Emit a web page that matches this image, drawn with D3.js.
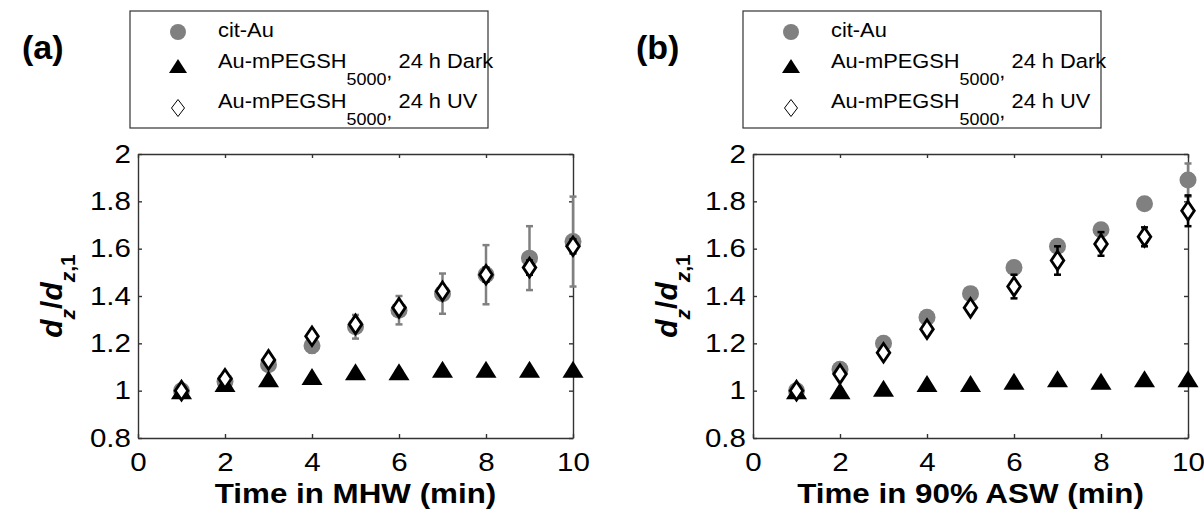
<!DOCTYPE html>
<html>
<head>
<meta charset="utf-8">
<script src="https://cdn.jsdelivr.net/npm/d3@7"></script>
<style>
  body { margin: 0; background: #fff; }
  svg { display: block; }
  text { font-family: "Liberation Sans", Arial, sans-serif; fill: #000; }
</style>
</head>
<body>
<div id="chart"></div>
<script>
// data
const times = [1, 2, 3, 4, 5, 6, 7, 8, 9, 10]
const xTicks = [0, 2, 4, 6, 8, 10]
const yTicks = [0.8, 1, 1.2, 1.4, 1.6, 1.8, 2]

// (a) MHW
const mhwCit = [1.00, 1.04, 1.11, 1.19, 1.27, 1.34, 1.41, 1.49, 1.56, 1.63]
const mhwCitErr = [0.01, 0.01, 0.02, 0.03, 0.05, 0.06, 0.085, 0.125, 0.135, 0.19]
const mhwDark = [1.00, 1.03, 1.05, 1.06, 1.08, 1.08, 1.09, 1.09, 1.09, 1.09]
const mhwDarkErr = [0.005, 0.005, 0.005, 0.005, 0.005, 0.005, 0.005, 0.005, 0.005, 0.005]
const mhwUV = [1.00, 1.05, 1.13, 1.23, 1.28, 1.35, 1.42, 1.49, 1.52, 1.61]
const mhwUVErr = [0.01, 0.01, 0.01, 0.01, 0.02, 0.02, 0.02, 0.03, 0.03, 0.03]

// (b) 90% ASW
const aswCit = [1.00, 1.09, 1.20, 1.31, 1.41, 1.52, 1.61, 1.68, 1.79, 1.89]
const aswCitErr = [0.01, 0.01, 0.01, 0.01, 0.01, 0.01, 0.01, 0.01, 0.01, 0.07]
const aswDark = [1.00, 1.00, 1.01, 1.03, 1.03, 1.04, 1.05, 1.04, 1.05, 1.05]
const aswDarkErr = [0.005, 0.005, 0.005, 0.005, 0.005, 0.005, 0.005, 0.005, 0.005, 0.005]
const aswUV = [1.00, 1.07, 1.16, 1.26, 1.35, 1.44, 1.55, 1.62, 1.65, 1.76]
const aswUVErr = [0.01, 0.01, 0.02, 0.02, 0.02, 0.05, 0.06, 0.05, 0.04, 0.065]

const legendNames = ["cit-Au", "Au-mPEGSH", "Au-mPEGSH"]
const legendSubs = ["", "5000", "5000"]
const legendTails = ["", " 24 h Dark", " 24 h UV"]

const W = 1204, H = 514
const SX = 1.12          // the source figure is a bit wider than tall
const GRAY = "#808080"
const plotTop = 154, plotBottom = 438, plotW = 435

const panels = [
  { tag: "(a)", tagX: 22, left: 138, legendX: 130, xLabel: "Time in MHW (min)",
    cit: mhwCit, citErr: mhwCitErr, dark: mhwDark, darkErr: mhwDarkErr, uv: mhwUV, uvErr: mhwUVErr },
  { tag: "(b)", tagX: 636, left: 753, legendX: 743, xLabel: "Time in 90% ASW (min)",
    cit: aswCit, citErr: aswCitErr, dark: aswDark, darkErr: aswDarkErr, uv: aswUV, uvErr: aswUVErr }
]

const svg = d3.select("#chart").append("svg")
  .attr("width", W)
  .attr("height", H)

const triPath = (w, h) => `M0,${-h}L${w},${h}L${-w},${h}Z`
const diaPath = (w, h) => `M0,${-h}L${w},0L0,${h}L${-w},0Z`

panels.forEach(p => {
  const g = svg.append("g")
  const x = d3.scaleLinear().domain([0, 10]).range([p.left, p.left + plotW])
  const y = d3.scaleLinear().domain([0.8, 2]).range([plotBottom, plotTop])
  const fmt = d => String(+d.toFixed(1))

  // axes, MATLAB style box with inward ticks
  const bx = g.append("g").attr("transform", `translate(0,${plotBottom})`)
    .call(d3.axisBottom(x).tickValues(xTicks).tickSize(-4).tickSizeOuter(0).tickPadding(15).tickFormat(fmt))
  const lx = g.append("g").attr("transform", `translate(${p.left},0)`)
    .call(d3.axisLeft(y).tickValues(yTicks).tickSize(-4).tickSizeOuter(0).tickPadding(6).tickFormat(fmt))
  const tx = g.append("g").attr("transform", `translate(0,${plotTop})`)
    .call(d3.axisTop(x).tickValues(xTicks).tickSize(-4).tickSizeOuter(0).tickFormat(""))
  const rx = g.append("g").attr("transform", `translate(${p.left + plotW},0)`)
    .call(d3.axisRight(y).tickValues(yTicks).tickSize(-4).tickSizeOuter(0).tickFormat(""))
  ;[bx, lx, tx, rx].forEach(a => {
    a.selectAll("path, line").attr("stroke", "#333").attr("stroke-width", 1.4)
    a.selectAll("text")
      .attr("font-family", '"Liberation Sans", Arial, sans-serif')
      .attr("font-size", 25)
      .attr("fill", "#000")
      .attr("transform", "scale(1.18,1)")
  })

  // axis titles
  g.append("text")
    .attr("transform", `translate(${p.left + plotW / 2},503) scale(${SX},1)`)
    .attr("text-anchor", "middle")
    .attr("font-size", 28)
    .attr("font-weight", "bold")
    .text(p.xLabel)

  const yl = g.append("text")
    .attr("transform", `translate(${p.left - 76},${(plotTop + plotBottom) / 2}) rotate(-90)`)
    .attr("text-anchor", "middle")
    .attr("font-size", 30)
    .attr("font-weight", "bold")
  yl.append("tspan").attr("font-style", "italic").text("d")
  yl.append("tspan").attr("font-style", "italic").attr("font-size", 21).attr("dy", 13).text("z")
  yl.append("tspan").attr("dy", -13).text("/")
  yl.append("tspan").attr("font-style", "italic").text("d")
  yl.append("tspan").attr("font-style", "italic").attr("font-size", 21).attr("dy", 13).text("z")
  yl.append("tspan").attr("font-size", 21).text(",1")

  // panel tag
  g.append("text")
    .attr("x", p.tagX).attr("y", 59)
    .attr("font-family", '"Open Sans", sans-serif')
    .attr("font-weight", "bold")
    .attr("font-size", 34)
    .text(p.tag)

  // error bars
  function errorBars(vals, errs, color) {
    const eg = g.append("g").attr("stroke", color).attr("stroke-width", 2.5)
    times.forEach((t, i) => {
      const cx = x(t), y0 = y(vals[i] - errs[i]), y1 = y(vals[i] + errs[i])
      eg.append("line").attr("x1", cx).attr("x2", cx).attr("y1", y0).attr("y2", y1)
      eg.append("line").attr("x1", cx - 3.5).attr("x2", cx + 3.5).attr("y1", y0).attr("y2", y0)
      eg.append("line").attr("x1", cx - 3.5).attr("x2", cx + 3.5).attr("y1", y1).attr("y2", y1)
    })
  }

  // cit-Au
  errorBars(p.cit, p.citErr, GRAY)
  g.append("g").selectAll("circle")
    .data(p.cit)
    .enter()
    .append("circle")
      .attr("cx", (d, i) => x(times[i]))
      .attr("cy", d => y(d))
      .attr("r", 8.5)
      .attr("fill", GRAY)

  // 24 h dark
  errorBars(p.dark, p.darkErr, "#000")
  g.append("g").selectAll("path")
    .data(p.dark)
    .enter()
    .append("path")
      .attr("transform", (d, i) => `translate(${x(times[i])},${y(d)})`)
      .attr("d", triPath(10.5, 8.5))
      .attr("fill", "#000")

  // 24 h UV
  errorBars(p.uv, p.uvErr, "#000")
  g.append("g").selectAll("path")
    .data(p.uv)
    .enter()
    .append("path")
      .attr("transform", (d, i) => `translate(${x(times[i])},${y(d)})`)
      .attr("d", diaPath(6.3, 9.3))
      .attr("fill", "#fff")
      .attr("stroke", "#000")
      .attr("stroke-width", 2.8)

  // legend
  const lg = g.append("g").attr("transform", `translate(${p.legendX},11)`)
  lg.append("rect")
    .attr("width", 358).attr("height", 117)
    .attr("fill", "#fff").attr("stroke", "#333").attr("stroke-width", 1.2)
  lg.append("circle").attr("cx", 48).attr("cy", 21).attr("r", 8).attr("fill", GRAY)
  lg.append("path").attr("transform", "translate(48,55)").attr("d", triPath(9, 7)).attr("fill", "#000")
  lg.append("path").attr("transform", "translate(48,97)").attr("d", diaPath(6.5, 8.5))
    .attr("fill", "#fff").attr("stroke", "#000").attr("stroke-width", 1)
  const baselines = [26, 57, 97]
  legendNames.forEach((name, i) => {
    const t = lg.append("text")
      .attr("transform", `translate(88,${baselines[i]}) scale(${SX},1)`)
      .attr("font-size", 19.5)
    t.append("tspan").text(name)
    if (legendSubs[i]) {
      t.append("tspan").attr("font-size", 16).attr("dy", 17).text(legendSubs[i])
      t.append("tspan").attr("dy", -7).text(",")
      t.append("tspan").attr("dy", -10).text(legendTails[i])
    }
  })
})
</script>
</body>
</html>
